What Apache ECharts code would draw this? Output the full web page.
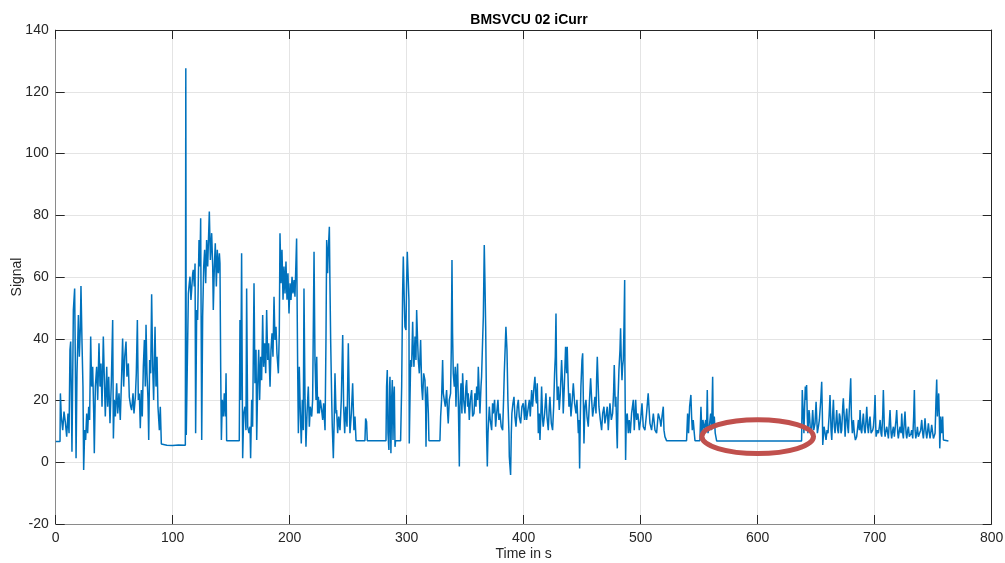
<!DOCTYPE html>
<html>
<head>
<meta charset="utf-8">
<script src="https://cdn.jsdelivr.net/npm/echarts@6/dist/echarts.min.js"></script>
<style>
html,body{margin:0;padding:0;background:#fff;}
#chart{width:1005px;height:563px;}
</style>
</head>
<body>
<div id="chart"></div>
<script>
// ---- data ----
const chartTitle = 'BMSVCU 02 iCurr';
const xName = 'Time in s';
const yName = 'Signal';
const xTicks = [0, 100, 200, 300, 400, 500, 600, 700, 800];
const yTicks = [-20, 0, 20, 40, 60, 80, 100, 120, 140];

const timeS = [
0,3.7,4,4.8,6,7.1,8.2,9.4,10.5,11.4,12.2,12.8,13.4,13.9,15.1,16.2,16.8,17.4,18.2,19.4,20.2,21.1,21.6,22.5,23.3,23.9,24.8,25.6,26.5,27.3,28.2,29,29.9,30.7,31.6,32.5,33,33.9,35,35.9,37,37.9,38.7,39.6,40.7,41.6,42.4,43.6,44.4,45.3,46.4,47.6,48.7,49.3,50.1,51,52.1,53,54.1,55.2,56.4,57.2,58.1,59,60.1,60.9,62.1,62.9,64.1,64.9,66.1,66.9,68.1,68.9,69.8,70.6,71.5,72.3,73.2,74,74.9,75.8,76.6,77.2,78,78.9,79.5,80.3,81.2,82,82.9,83.7,84.9,85.7,86.6,87.4,88.6,89.4,90.3,92,95,100,105,110.8,
111.2,111.6,113.4,114.2,114.8,115.6,116.2,117.1,117.6,118.5,119.1,119.6,120.5,121.3,122.5,123.3,123.9,124.8,
125.6,126.5,127.3,128.2,129,129.9,131.3,132.2,133.3,134.2,134.7,135.6,136.4,137.3,138.1,139,139.9,140.4,141,141.6,142.4,143.3,144.1,145,145.6,146.1,156.9,
157.5,158.1,158.9,159.8,160.7,161.8,162.6,163.2,164.1,165.2,166.1,166.6,167.5,168.3,169.5,170.3,171.2,171.8,172.6,173.5,174.3,175.2,176,176.9,177.7,178.6,179.5,180.3,181.2,182,183.2,184,184.9,185.7,186.6,187.4,188.3,189.1,190.3,191.1,191.7,192.6,193.4,194.3,195.1,196,196.8,197.7,198.5,199.4,200.3,201.1,202,202.8,203.7,204.5,205.4,205.9,206.8,207.4,208.2,209.1,209.9,210.8,211.6,212.2,213.1,213.9,214.8,215.9,216.8,217.6,218.8,219.6,220.8,221.6,222.5,223.1,223.9,224.5,225.3,226.2,227.3,228.2,229,230.2,231,231.6,232.4,233,233.9,234.4,235,235.9,236.4,237.3,238.1,238.7,239.6,240.1,241,241.9,243,244.1,245.3,246.1,247,247.8,249,250.1,251,251.5,252.7,253.8,254.9,255.8,256.7,
264.3,264.9,265.7,266.3,282.3,282.8,283.4,284,284.8,285.4,285.7,286.3,286.5,287.1,287.7,288.3,288.8,289.4,290,290.5,294.8,
295.7,296.5,297.1,297.9,298.5,299.4,299.9,300.5,301.4,301.9,302.2,302.8,303.4,304.2,305.1,305.6,306.2,307.1,307.9,308.5,309.3,309.9,310.8,311.9,312.8,313.6,314.5,315.6,316.2,316.5,317,317.6,318.5,319,328.4,
329,329.8,330.7,331.3,332.1,333,334.1,335,335.5,336.4,337.5,338.1,338.7,339.2,339.8,340.7,341.5,342.1,342.7,343.5,344.1,345,345.5,346.4,347.2,347.8,348.7,349.8,350.6,351.2,352.1,352.6,353.5,354.4,355.5,356.3,357.5,358.3,359.2,359.8,360.6,361.2,362,362.6,363.5,364,364.9,365.5,366.3,366.9,367.5,368,368.3,368.9,369.5,370.6,371.4,372.6,373.4,374,375.1,376,376.9,378,378.8,379.7,380.8,382,382.8,383.4,384.3,384.8,385.7,386.5,387.4,
387.7,388.8,389.4,389.9,390.8,391.7,392.5,393.4,394.5,395.4,396.2,397.4,398.5,399.6,400.8,401.6,402.5,403.6,404.8,405.6,406.8,407.6,408.8,409.6,410.5,411,411.6,412.5,413.3,413.9,414.7,415.3,416.2,416.7,417.9,419,419.9,421,421.9,422.4,423.6,424.7,425.6,426.4,427,427.6,428.1,428.7,429.6,430.4,431.3,432.4,433.3,433.8,434.7,435.8,436.7,437.2,438.1,438.7,439.5,440.4,441.5,442.4,443.5,444.7,445.5,446.7,447.2,447.8,448.4,448.9,449.8,450.4,450.9,451.5,452.3,453.2,454.1,455.2,456.1,457.2,458.1,458.9,460,460.9,461.8,462.3,462.9,463.7,464.3,465.5,466.6,467.5,468.6,469.4,470.3,471.4,472.3,473.1,473.7,474.9,476,476.8,477.4,478.3,478.8,479.4,480,480.6,481.4,482.3,482.8,483.4,484,484.5,485.1,485.7,486.3,486.5,487.1,487.7,488.5,489.4,490.2,491.1,492.2,493.7,494.5,495.7,496.5,497.6,498.8,499.9,501.1,502.2,503.6,505,506.4,507.9,509.3,510.8,512.2,513.6,515,516.5,
517.3,518.2,519.3,519.9,520.7,522.1,539.2,540.1,540.9,541.8,542.9,543.5,544.1,544.9,545.8,546.4,550.6,551.5,552.3,553.2,554.3,555.5,556.3,556.9,557.5,558.6,559.8,560.6,561.5,562,562.9,563.7,564.9,637.5,
638.1,639,639.5,640.1,640.7,641.2,641.8,642.4,642.9,643.8,
644.2,645,645.9,647,647.9,649,649.9,651,651.9,652.7,653.9,654.7,655.3,655.6,656.7,657.6,658.4,659.3,660.1,661,661.8,662.7,663.3,664.1,664.7,665.5,666.1,667,667.5,668.4,669,669.8,670.4,671.2,671.8,672.7,673.2,674.1,674.7,675.5,676.1,676.9,677.5,678.4,678.9,679.5,680.1,680.9,681.8,682.6,683.5,684.6,685.5,686.1,686.9,687.5,688.3,688.9,689.8,690.3,691.2,691.8,692.6,693.2,694,694.6,695.5,696,696.9,697.5,698.3,698.9,699.7,700.3,700.9,701.2,702.3,703.2,704,704.6,705.4,706,706.9,707.4,708.3,708.9,709.7,710.3,711.1,711.7,712.6,713.1,714,714.5,715.4,716,716.8,717.4,718.2,718.8,719.7,720.2,721.1,721.7,722.5,723.1,723.9,724.5,725.4,725.9,726.8,727.4,728.2,728.8,729.6,730.2,731.1,731.6,732.5,733.3,733.9,734.5,735.1,735.9,736.5,737.3,738.2,739.3,740.2,741,741.6,742.5,743,743.9,744.5,745.3,745.9,746.7,747.3,748.2,748.7,749.6,750.2,751,751.6,752.4,753,753.6,753.9,754.4,754.7,755.3,755.6,756.2,756.4,757.3,758.1,758.7,760.1,763
];

const signal = [
6.7,6.7,22.3,14.8,10.4,16.4,13.1,8.3,15.8,9.4,36.4,39.1,20.2,3.4,49.3,56.3,30.9,1.3,28.8,47.7,34.2,43.9,57.1,38.5,24.5,-2.5,10.4,7.2,15.8,9.4,18,13.7,40.7,24.5,30.9,15.8,2.9,24.5,30.9,20.2,38.5,24.5,32,18,40.7,26.6,14.8,30.9,18,27.7,12.6,26.6,46.1,7.7,20.2,14.8,25.6,15.8,22.3,13.7,28.8,40.1,24.5,34.2,39.1,27.7,32,21.2,18,16.9,22.3,15.8,21.2,28.8,46.1,20.2,22.3,11,23.4,14.8,30.9,39.6,24.5,44.5,28.8,20.2,7.2,33.1,28.8,54.4,30.9,20.2,43.9,24.5,34.2,18,10.4,18,5.9,5.3,5.5,5.4,5.6,5.5,
127.6,8.8,54.7,58,60.1,52.6,55.8,61.2,62.3,56.9,64.4,9.4,49.3,46.1,72,63.4,79,7.2,
47.2,63.4,68.8,58,72,63.4,81.2,65.5,74.2,63.4,49.3,63.4,70.9,56.9,68.8,61.2,67.7,64.4,30.9,7.2,20.2,14.8,22.3,14.8,28.8,7,7,
46.1,20.2,67.7,1.3,15.8,18,10.4,56.3,11.5,9.4,11.5,1.3,20.2,11.5,58,25.6,36.4,7.2,24.5,36.4,20.2,34.2,26.6,47.7,30.9,38.5,28.8,49.3,33.1,38.5,24.5,36.4,41.8,34.2,53.6,39.6,43.9,35.3,28.8,41.8,74.2,58,68.8,52.6,63.4,54.7,65,52.6,61.2,48.2,58,52.6,60.1,54.7,59,53.6,65.5,72.5,30.9,9.4,30.9,15.8,6.1,20.2,10.4,56.3,20.2,5,15.8,24.5,11.5,18,14.8,20.2,68.2,33.1,20.2,34.2,15.8,21.2,15.8,20.2,16.9,13.7,19.1,10.4,39.6,72,61.2,68.8,76.3,58,39.6,20.2,11.5,1.3,14.8,28.8,15.8,16.9,9.4,14.8,10.4,20.2,41.2,18,9.4,18,11.5,38.5,18,9.4,15.8,25.6,10.4,14.8,7,
7,14.2,13.1,7,7,24.5,29.9,9.4,4,24.5,27.7,9.4,2.9,20.2,26.6,7.2,20.2,24.5,5,7,7,
24.5,54.7,66.6,52.6,43.9,42.8,58,68.2,68.8,52.6,6.1,20.2,33.1,30.9,45.5,36.4,30.9,40.7,33.1,49.3,39.6,33.1,28.8,39.6,24.5,20.2,28.8,26.6,18,5,20.2,24.5,15.8,7,7,
14.8,20.2,33.1,22.3,20.2,18,23.4,15.8,12.6,20.2,22.3,36.4,65.5,41.8,28.8,24.5,30.9,18,26.6,32,20.2,-1.4,18,25.6,15.8,28.8,20.2,15.8,24.5,26.6,18,22.3,13.7,20.2,23.4,14.8,15.8,22.3,18,24.5,20.2,30.9,22.3,15.8,24.5,27.7,39.6,47.2,70.4,58,43.9,25.6,9.4,-1.4,9.4,18,13.7,10.4,19.1,15.8,20.2,11.5,15.8,20.2,13.7,15.8,11.5,10.4,20.2,28.8,38.5,43.9,36.4,20.2,9.4,
1.8,-4.1,9.4,15.8,19.1,21.2,14.8,11.5,18,20.2,14.8,12.6,18,19.1,13.7,20.2,13.7,16.9,20.2,14.8,23.4,18,24.5,27.7,20.2,19.1,25.6,9.4,15.8,7.2,15.8,24.5,13.7,11.5,15.8,22.3,14.8,10.4,18,21.2,12.6,10.4,18,28.8,34.2,48.2,28.8,20.2,24.5,16.9,22.3,33.1,24.5,15.8,24.5,37.4,28.8,37.4,24.5,18,22.3,14.8,20.2,25.6,19.1,15.8,20.2,9.4,13.7,-2,14.8,24.5,33.1,35.3,22.3,6.1,18,20.2,14.8,11.5,19.1,27.2,20.2,14.8,18,21.2,15.8,26.6,34.2,24.5,18,13.7,10.4,15.8,18,12.6,14.8,18,10.4,15.8,19.1,13.7,15.8,22.3,31.5,18,21.2,11.5,4.5,20.2,29.9,36.4,43.4,33.1,26.6,30.9,33.1,43.9,59,30.9,0.7,14.8,15.8,9.4,13.7,9.4,15.8,20.2,10.4,20.2,13.7,15.8,10.4,13.7,19.1,11.5,10.4,15.8,22.3,12.6,10.4,15.8,10.4,9.4,15.8,13.7,
11.5,14.8,18,10.4,8.3,7,7,15.8,9.4,18,21.8,14.8,10.4,13.7,9.4,7,7,18,9.4,13.7,10.4,13.7,10.4,23.4,9.4,11.5,15.8,10.4,27.7,11.5,14.8,9.4,6.9,6.9,
23.4,14.8,9.4,18,24.5,20.2,25,14.8,9.4,16.9,
15.8,10.4,9.4,16.9,10.4,12.6,19.6,9.4,11.5,13.7,20.2,26.1,14.8,5.6,11.5,9.4,7.2,10.4,9.4,14.8,21.8,10.4,7.2,15.8,20.2,11.5,9.4,13.7,16.9,10.4,9.4,15.8,14.8,9.4,10.4,18,20.7,13.7,8.3,14.8,17.4,11.5,9.4,18,22.3,27.2,14.8,9.4,13.7,9.4,7.2,8.3,11.5,13.7,10.4,16.9,10.4,9.4,13.7,15.8,10.4,9.4,13.7,18,11.5,9.4,13.7,14.8,9.4,8.8,10.4,11.5,15.8,21.8,11.5,8.3,10.4,9.4,11.5,13.7,9.4,8.3,15.8,23.4,10.4,8.3,10.4,11.5,9.4,7.7,13.7,16.9,9.4,7.7,10.4,11.5,8.3,7.7,13.7,16.9,9.4,7.7,10.4,11.5,9.4,15.8,9.4,7.7,13.7,16.4,9.4,7.7,10.4,11.5,8.3,7.7,9.4,10.4,7.7,14.8,23.4,10.4,7.7,9.4,11.5,8.3,7.7,10.4,13.7,9.4,7.7,11.5,14.2,9.4,7.7,10.4,12.6,9.4,7.7,10.4,12.1,9.4,7.7,8.3,9.4,20.2,26.8,14.8,18,20.2,22.3,13.7,4.5,10.4,14.8,9.4,14.8,7.2,6.7,6.9
];

// annotation ellipse (data units): centre and half sizes
const ellipseCenter = [600, 8.3];
const ellipseHalf = [47.7, 5.5];

// ---- chart ----
const FONT = '"Liberation Sans", Arial, Helvetica, sans-serif';
const dark = '#262626';
const chart = echarts.init(document.getElementById('chart'), null, {renderer: 'canvas'});
const seriesData = timeS.map((t, i) => [t, signal[i]]);

const xBase = {
  type: 'value', min: xTicks[0], max: xTicks[xTicks.length - 1], interval: xTicks[1] - xTicks[0]
};
const yBase = {
  type: 'value', min: yTicks[0], max: yTicks[yTicks.length - 1], interval: yTicks[1] - yTicks[0]
};

chart.setOption({
  animation: false,
  backgroundColor: '#ffffff',
  title: {
    text: chartTitle, left: 524, top: 8, textAlign: 'center',
    textStyle: {fontFamily: FONT, fontSize: 14, fontWeight: 'bold', color: '#000'}
  },
  grid: {left: 55.7, right: 13.3, top: 30, bottom: 39, containLabel: false, outerBoundsMode: 'none'},
  xAxis: [
    Object.assign({}, xBase, {
      position: 'bottom',
      name: xName, nameLocation: 'middle', nameGap: 23, nameMoveOverlap: false,
      nameTextStyle: {fontFamily: FONT, fontSize: 14, color: dark},
      axisLine: {show: true, onZero: false, lineStyle: {color: '#8a8a8a', width: 1}},
      axisTick: {show: true, inside: true, length: 9, lineStyle: {color: dark}},
      axisLabel: {fontFamily: FONT, fontSize: 14, color: dark, margin: 7},
      splitLine: {show: true, lineStyle: {color: '#e4e4e4', width: 1}}
    }),
    Object.assign({}, xBase, {
      position: 'top',
      axisLine: {show: true, onZero: false, lineStyle: {color: dark, width: 1}},
      axisTick: {show: true, inside: true, length: 9, lineStyle: {color: dark}},
      axisLabel: {show: false},
      splitLine: {show: false}
    })
  ],
  yAxis: [
    Object.assign({}, yBase, {
      position: 'left',
      name: yName, nameLocation: 'middle', nameGap: 32, nameRotate: 90, nameMoveOverlap: false,
      nameTextStyle: {fontFamily: FONT, fontSize: 14, color: dark},
      axisLine: {show: true, onZero: false, lineStyle: {color: '#8a8a8a', width: 1}},
      axisTick: {show: true, inside: true, length: 9, lineStyle: {color: dark}},
      axisLabel: {fontFamily: FONT, fontSize: 14, color: dark, margin: 7},
      splitLine: {show: true, lineStyle: {color: '#e4e4e4', width: 1}}
    }),
    Object.assign({}, yBase, {
      position: 'right',
      axisLine: {show: true, onZero: false, lineStyle: {color: dark, width: 1}},
      axisTick: {show: true, inside: true, length: 9, lineStyle: {color: dark}},
      axisLabel: {show: false},
      splitLine: {show: false}
    })
  ],
  series: [{
    type: 'line',
    data: seriesData,
    xAxisIndex: 0, yAxisIndex: 0,
    showSymbol: false, symbol: 'none',
    sampling: null,
    lineStyle: {color: '#0072BD', width: 1.5},
    z: 3
  }]
});

function drawEllipse() {
  const c = chart.convertToPixel({gridIndex: 0}, ellipseCenter);
  const e = chart.convertToPixel({gridIndex: 0}, [ellipseCenter[0] + ellipseHalf[0], ellipseCenter[1] + ellipseHalf[1]]);
  chart.setOption({
    graphic: [{
      type: 'ellipse', z: 100, silent: true,
      shape: {cx: c[0], cy: c[1], rx: Math.abs(e[0] - c[0]), ry: Math.abs(c[1] - e[1])},
      style: {fill: 'none', stroke: '#C0504D', lineWidth: 5}
    }]
  });
}
drawEllipse();
</script>
</body>
</html>
